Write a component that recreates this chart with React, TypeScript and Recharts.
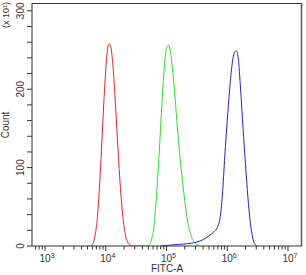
import { LineChart, Line, XAxis, YAxis } from "recharts";

// x values are log10(FITC-A), y values are counts (x 10^1)
const redX = [3.72, 3.76, 3.79, 3.82, 3.86, 3.9, 3.94, 3.98, 4.02, 4.05, 4.08, 4.12, 4.16, 4.2, 4.24, 4.28, 4.32, 4.36, 4.4, 4.44];
const redY = [0, 0, 3, 12, 35, 80, 140, 200, 245, 258, 255, 228, 180, 125, 75, 38, 15, 5, 1, 0];

const greenX = [4.45, 4.55, 4.65, 4.72, 4.76, 4.8, 4.84, 4.88, 4.92, 4.96, 5.0, 5.03, 5.06, 5.1, 5.14, 5.18, 5.22, 5.26, 5.3, 5.34, 5.38, 5.42, 5.46, 5.5, 5.54];
const greenY = [0, 0, 0, 2, 10, 30, 70, 120, 175, 225, 252, 256, 250, 225, 190, 150, 115, 85, 58, 36, 20, 10, 5, 2, 0];

const blueX = [4.9, 5.05, 5.2, 5.35, 5.5, 5.6, 5.7, 5.78, 5.84, 5.88, 5.92, 5.96, 6.0, 6.04, 6.08, 6.12, 6.15, 6.18, 6.22, 6.26, 6.3, 6.34, 6.38, 6.42, 6.46, 6.5];
const blueY = [0, 1, 2, 3, 5, 8, 13, 18, 24, 35, 65, 115, 160, 200, 232, 247, 249, 240, 200, 150, 105, 62, 30, 10, 2, 0];

const decades = [3, 4, 5, 6, 7];
const yMajor = [0, 100, 200, 300];

const X_MIN = 2.785;
const X_MAX = 7.231;

const toPoints = (xs: number[], ys: number[]) => xs.map((x, i) => ({ x, y: ys[i] }));

const xTicks: number[] = [];
for (let k = 2; k <= 7; k++) {
  for (let m = 1; m <= 9; m++) {
    const v = k + Math.log10(m);
    if (v >= X_MIN && v <= X_MAX) xTicks.push(v);
  }
}
const yTicks: number[] = [];
for (let v = 0; v <= 300; v += 20) yTicks.push(v);

const FONT = "'Liberation Sans', Arial, sans-serif";

function XTick(props: any) {
  const { x, y, payload } = props;
  const v = payload.value;
  const major = decades.some((d) => Math.abs(d - v) < 1e-6);
  return (
    <g>
      <line x1={x} y1={y} x2={x} y2={y + (major ? 5 : 3.5)} stroke="#333" strokeWidth={1} />
      {major && (
        <text x={x + 2} y={y + 16} textAnchor="middle" fontSize={10} fill="#333" fontFamily={FONT}>
          10
          <tspan fontSize={7} dy={-4}>
            {Math.round(v)}
          </tspan>
        </text>
      )}
    </g>
  );
}

function YTick(props: any) {
  const { x, y, payload } = props;
  const v = payload.value;
  const major = yMajor.includes(v);
  return (
    <g>
      <line x1={x - 5} y1={y} x2={x} y2={y} stroke="#333" strokeWidth={1} />
      {major && (
        <text
          x={x - 8}
          y={y}
          transform={`rotate(-90 ${x - 8} ${y})`}
          textAnchor="middle"
          fontSize={10}
          fill="#333"
          fontFamily={FONT}
        >
          {v}
        </text>
      )}
    </g>
  );
}

export default function App() {
  return (
    <div style={{ width: 306, height: 275, background: "#fff" }}>
      <style>{`body { margin: 0; }`}</style>
      <LineChart
        width={306}
        height={275}
        margin={{ top: 3, right: 4, bottom: 0, left: 0 }}
      >
        <XAxis
          type="number"
          dataKey="x"
          domain={[X_MIN, X_MAX]}
          ticks={xTicks}
          interval={0}
          height={29}
          tick={<XTick />}
          tickLine={false}
          tickSize={0}
          tickMargin={0}
          axisLine={{ stroke: "#333" }}
          allowDataOverflow
        />
        <YAxis
          type="number"
          dataKey="y"
          domain={[0, 310]}
          ticks={yTicks}
          interval={0}
          width={32}
          tick={<YTick />}
          tickLine={false}
          tickSize={0}
          tickMargin={0}
          axisLine={{ stroke: "#333" }}
          allowDataOverflow
        />
        <Line data={toPoints(redX, redY)} dataKey="y" type="monotone" stroke="#e3262b" strokeWidth={1} dot={false} isAnimationActive={false} />
        <Line data={toPoints(greenX, greenY)} dataKey="y" type="monotone" stroke="#2fdc2f" strokeWidth={1} dot={false} isAnimationActive={false} />
        <Line data={toPoints(blueX, blueY)} dataKey="y" type="monotone" stroke="#2323c8" strokeWidth={1} dot={false} isAnimationActive={false} />
        {/* frame top and right */}
        <line x1={32} y1={3.5} x2={302} y2={3.5} stroke="#333" strokeWidth={1} />
        <line x1={301.5} y1={3} x2={301.5} y2={246} stroke="#555" strokeWidth={1.5} />
        <text x={167} y={272} textAnchor="middle" fontSize={10} fill="#333" fontFamily={FONT}>
          FITC-A
        </text>
        <text x={9} y={125} transform="rotate(-90 9 125)" textAnchor="middle" fontSize={10} fill="#333" fontFamily={FONT}>
          Count
        </text>
        <text x={9} y={15} transform="rotate(-90 9 15)" textAnchor="middle" fontSize={9} fill="#333" fontFamily={FONT}>
          (x 10¹)
        </text>
      </LineChart>
    </div>
  );
}
